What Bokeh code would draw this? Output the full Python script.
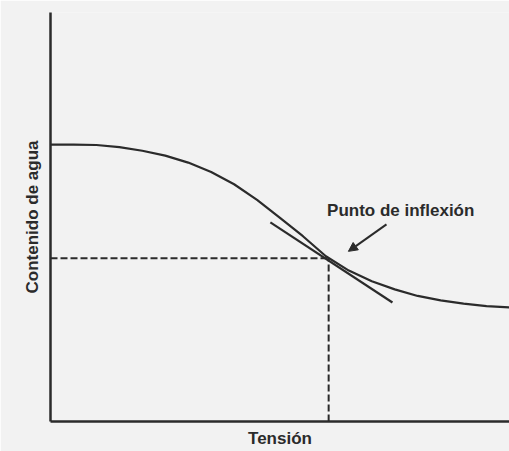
from bokeh.plotting import figure
from bokeh.models import Range1d, Arrow, NormalHead, ColumnDataSource
from bokeh.core.properties import value
from bokeh.embed import file_html
from bokeh.resources import INLINE

# Retention curve (x: tension, y: water content, 0-100 scale)
tension = [0, 5, 10, 15, 20, 25, 30, 35, 40, 45, 50, 55, 60, 65, 70, 75, 80, 85, 90, 95, 100]
water = [67.7, 67.7, 67.6, 67.1, 66.2, 65.0, 63.3, 61.0, 58.0, 54.2, 49.8, 45.3, 40.4, 36.9,
         34.3, 32.3, 30.7, 29.6, 28.8, 28.2, 27.9]

# Inflection point
infl_x = 60.6
infl_y = 39.9

# Tangent segment end points
tan_x = [47.9, 74.5]
tan_y = [48.7, 29.1]

# Annotation
label_text = "Punto de inflexión"
label_pos = (76.3, 51.6)
arrow_start = (73.2, 48.2)
arrow_end = (64.9, 41.6)

LINE = "#2b2b2b"
BG = "#f2f2f2"
FONT = "Liberation Sans"

p = figure(width=509, height=451, output_backend="svg", toolbar_location=None,
           x_range=Range1d(0, 100), y_range=Range1d(0, 100),
           min_border_left=50, min_border_right=0, min_border_top=12, min_border_bottom=30)
p.background_fill_color = BG
p.border_fill_color = BG
p.outline_line_color = None
p.grid.visible = False

for ax in (p.xaxis[0], p.yaxis[0]):
    ax.axis_line_width = 2.5
    ax.axis_line_color = LINE
    ax.major_tick_line_color = None
    ax.minor_tick_line_color = None
    ax.major_tick_out = 0
    ax.major_tick_in = 0
    ax.minor_tick_out = 0
    ax.major_label_text_font_size = "0px"
    ax.major_label_standoff = 0
    ax.axis_label_text_font = FONT
    ax.axis_label_text_font_style = "bold"
    ax.axis_label_text_font_size = "17px"
    ax.axis_label_text_color = "#2b2b2b"

p.xaxis.axis_label = "Tensión"
p.yaxis.axis_label = "Contenido de agua"
p.xaxis.axis_label_standoff = 7
p.yaxis.axis_label_standoff = 9

src = ColumnDataSource(dict(x=tension, y=water))
p.line("x", "y", source=src, line_color=LINE, line_width=2.2)

p.line(tan_x, tan_y, line_color=LINE, line_width=2.2)

p.line([0, infl_x], [infl_y, infl_y], line_color=LINE, line_width=2, line_dash="7 3")
p.line([infl_x, infl_x], [0, infl_y], line_color=LINE, line_width=2, line_dash="7 3")

p.text(x=[label_pos[0]], y=[label_pos[1]], text=[label_text],
       text_font=value(FONT), text_font_style="bold", text_font_size="17px",
       text_color="#2b2b2b", text_align="center", text_baseline="middle")

p.add_layout(Arrow(end=NormalHead(size=9, fill_color=LINE, line_color=LINE),
                   x_start=arrow_start[0], y_start=arrow_start[1],
                   x_end=arrow_end[0], y_end=arrow_end[1],
                   line_color=LINE, line_width=2))

open("out.html", "w").write(file_html(p, INLINE))
